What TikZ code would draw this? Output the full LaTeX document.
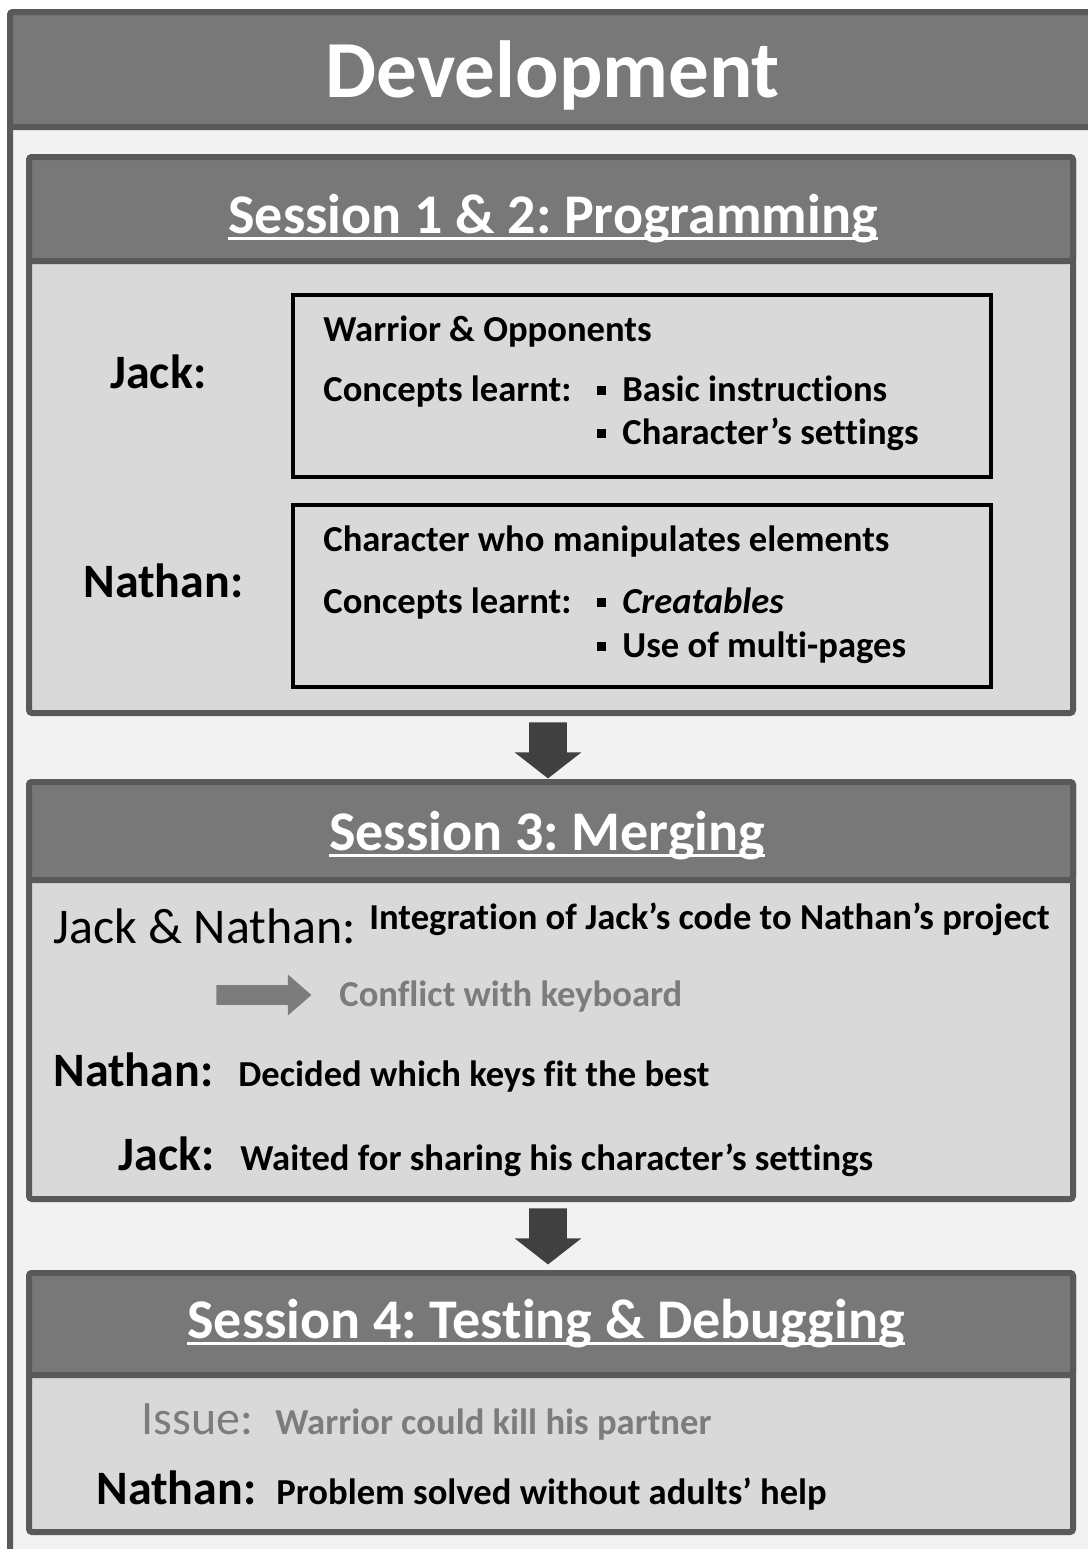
\documentclass[tikz,border=0pt]{standalone}
\usepackage{fontspec}
\setmainfont{Carlito}[Ligatures=NoCommon]
\usetikzlibrary{shapes.arrows}

\definecolor{framegray}{HTML}{595959}
\definecolor{headgray}{HTML}{787878}
\definecolor{bodygray}{HTML}{D9D9D9}
\definecolor{pagegray}{HTML}{F2F2F2}
\definecolor{arrowgray}{HTML}{404040}
\definecolor{softgray}{HTML}{7C7C7C}

\newcommand\hul[1]{\setbox0\hbox{#1}\rlap{\rule[-3.5pt]{\wd0}{1.5pt}}\box0}
\newcommand\bul{\rule[3pt]{4.5pt}{4.5pt}\hspace{8pt}}

\tikzset{
	sess/.style={draw=framegray,line width=3pt,rounded corners=1.5pt},
	headtxt/.style={anchor=base,inner sep=0pt,text=white,font=\bfseries\fontsize{28}{30}\selectfont},
	who/.style={anchor=base west,inner sep=0pt,font=\bfseries\fontsize{24}{26}\selectfont},
	txt/.style={anchor=base west,inner sep=0pt,font=\bfseries\fontsize{18.3}{20}\selectfont},
	workbox/.style={draw=black,line width=1.75pt,minimum width=349pt,minimum height=91pt,anchor=north west,inner sep=0pt},
	downarrow/.style={single arrow,fill=arrowgray,shape border rotate=270,minimum height=28pt,inner sep=9.25pt,single arrow head extend=7.25pt,single arrow tip angle=104,anchor=north}
}

\begin{document}
\frenchspacing
\begin{tikzpicture}[x=0.5pt,y=-0.5pt]
	\clip (0,0) rectangle (1088,1549);
	\draw[sess,fill=pagegray] (10,12) rectangle (1110,1570);
	\draw[sess,fill=headgray] (10,12) rectangle (1110,127);
	\node[headtxt,font=\bfseries\fontsize{40.5}{42}\selectfont] (dev) at (553,97) {Development};
	\foreach \top/\mid/\bot in {157/261/713,782/880/1199,1273/1375/1532}
	{
		\draw[sess,fill=bodygray] (29,\top) rectangle (1073,\bot);
		\draw[sess,fill=headgray] (29,\top) rectangle (1073,\mid);
	}
	\node[headtxt] (s1) at (553,233) {\hul{Session 1 \& 2: Programming}};
	\node[headtxt] (s3) at (547,850) {\hul{Session 3: Merging}};
	\node[headtxt] (s4) at (546,1338) {\hul{Session 4: Testing \& Debugging}};
	
	\node[downarrow] (a1) at (548,722) {};
	\node[downarrow] (a2) at (548,1208) {};
	
	\node[who] (jack1) at (110,388) {Jack:};
	\node[who] (nathan1) at (83,597) {Nathan:};
	\node[workbox] (box1) at (291,293) {};
	\node[workbox] (box2) at (291,503) {};
	\node[txt] (warrior) at (323,341) {Warrior \& Opponents};
	\node[txt] (learnt1) at (323,401) {Concepts learnt:};
	\node[txt] (basic) at (597,401) {\bul Basic instructions};
	\node[txt] (settings) at (597,444) {\bul Character’s settings};
	\node[txt] (element) at (323,551) {Character who manipulates elements};
	\node[txt] (learnt2) at (323,613) {Concepts learnt:};
	\node[txt] (creat) at (597,613) {\bul\textit{Creatables}};
	\node[txt] (pages) at (597,657) {\bul Use of multi-pages};
	
	\node[who,font=\fontsize{25}{27}\selectfont] (both) at (53,943) {Jack \& Nathan:};
	\node[txt] (integr) at (369,929) {Integration of Jack’s code to Nathan’s project};
	\node[single arrow,fill=softgray,minimum height=47.5pt,inner sep=4.75pt,single arrow head extend=5.25pt,single arrow tip angle=82,anchor=west] (a3) at (216,995) {};
	\node[txt,text=softgray] (conflict) at (339,1006) {Conflict with keyboard};
	\node[who] (nathan3) at (53,1086) {Nathan:};
	\node[txt] (decided) at (238,1086) {Decided which keys fit the best};
	\node[who] (jack3) at (118,1170) {Jack:};
	\node[txt] (waited) at (240,1170) {Waited for sharing his character’s settings};
	
	\node[who,font=\fontsize{24}{26}\selectfont,text=softgray] (issue) at (141,1434) {Issue:};
	\node[txt,text=softgray] (kill) at (275,1434) {Warrior could kill his partner};
	\node[who] (nathan4) at (96,1504) {Nathan:};
	\node[txt] (solved) at (276,1504) {Problem solved without adults’ help};
\end{tikzpicture}
\end{document}
